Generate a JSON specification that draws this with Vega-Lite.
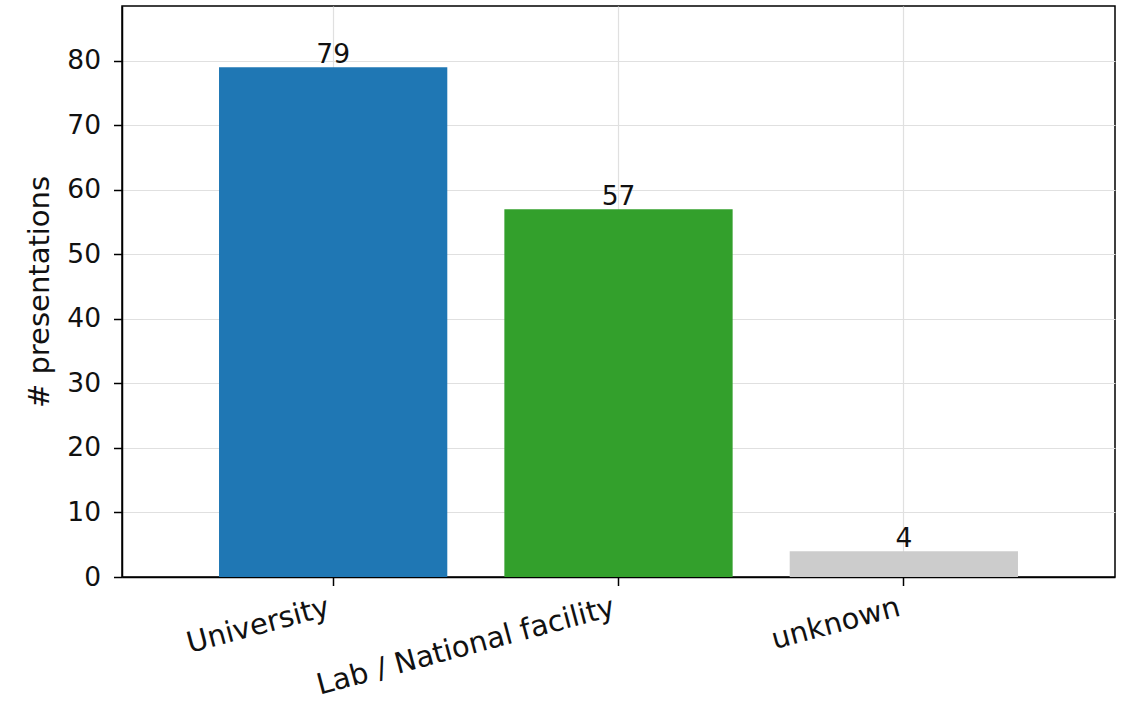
{
  "$schema": "https://vega.github.io/schema/vega-lite/v6.json",
  "width": 993,
  "height": 571,
  "autosize": {"type": "none"},
  "padding": {"left": 122, "top": 6, "right": 12, "bottom": 124},
  "background": "white",
  "config": {
    "font": "DejaVu Sans",
    "view": {"stroke": "black", "strokeWidth": 1.5},
    "axis": {
      "labelFont": "DejaVu Sans",
      "titleFont": "DejaVu Sans",
      "labelFontSize": 26.5,
      "titleFontSize": 29,
      "labelColor": "#111111",
      "titleColor": "#111111",
      "titleFontWeight": "normal",
      "tickColor": "black",
      "domainColor": "black",
      "domainWidth": 1.5,
      "tickWidth": 1.5,
      "tickSize": 8.5,
      "labelPadding": 13,
      "labelLimit": 0,
      "gridColor": "#e0e0e0",
      "gridWidth": 1.2
    }
  },
  "data": {
    "values": [
      {"affiliation": "University", "count": 79},
      {"affiliation": "Lab / National facility", "count": 57},
      {"affiliation": "unknown", "count": 4}
    ]
  },
  "encoding": {
    "x": {
      "field": "affiliation",
      "type": "nominal",
      "sort": null,
      "scale": {"paddingInner": 0.2, "paddingOuter": 0.34},
      "axis": {
        "title": null,
        "labelFontSize": 29,
        "labelAngle": -15,
        "labelAlign": "right",
        "labelBaseline": "top",
        "grid": true,
        "bandPosition": 0.5,
        "labelPadding": 7,
        "labelOffset": -8
      }
    },
    "y": {
      "field": "count",
      "type": "quantitative",
      "scale": {"domain": [0, 88.5], "nice": false},
      "axis": {
        "title": "# presentations",
        "values": [0, 10, 20, 30, 40, 50, 60, 70, 80],
        "grid": true,
        "titlePadding": 12
      }
    }
  },
  "layer": [
    {
      "mark": {"type": "bar"},
      "encoding": {
        "color": {
          "field": "affiliation",
          "type": "nominal",
          "scale": {
            "domain": ["University", "Lab / National facility", "unknown"],
            "range": ["#1f77b4", "#33a02c", "#cccccc"]
          },
          "legend": null
        }
      }
    },
    {
      "mark": {"type": "text", "baseline": "bottom", "fontSize": 26.5, "color": "#111111", "font": "DejaVu Sans", "dy": 2},
      "encoding": {"text": {"field": "count", "type": "quantitative"}}
    }
  ]
}
